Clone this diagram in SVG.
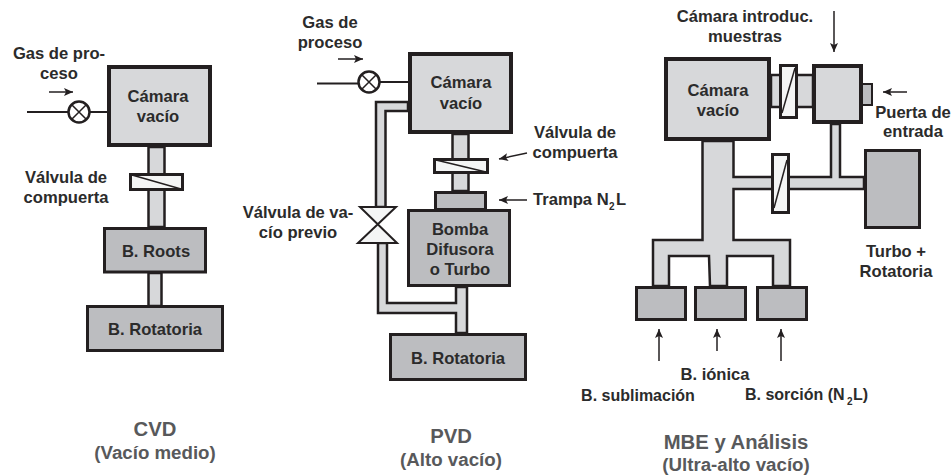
<svg xmlns="http://www.w3.org/2000/svg" width="951" height="475" viewBox="0 0 951 475">
<style>
text{font-family:"Liberation Sans",Arial,sans-serif;font-weight:700;font-size:16.600px;fill:#2b2b2b;text-anchor:middle}
.t{font-size:20.300px;fill:#58595b}
.s{font-size:18.700px;fill:#58595b}
.st{text-anchor:start}
.n{font-size:16px}
.sub{font-size:10px}
.h{fill:#d7d8da;stroke:#231f20;stroke-width:4}
.d{fill:#bcbdc0;stroke:#231f20;stroke-width:3}
.v{fill:#f4f5f5;stroke:#231f20;stroke-width:3}
.p{fill:#d7d8da;stroke:#231f20;stroke-width:2.500}
.w{fill:none;stroke:#231f20;stroke-width:2}
.a{fill:none;stroke:#231f20;stroke-width:1.500;marker-end:url(#ah)}
.x{fill:none;stroke:#231f20;stroke-width:1.500}
.c{fill:#fff;stroke:#231f20;stroke-width:2.500}
</style>
<defs><marker id="ah" markerUnits="userSpaceOnUse" markerWidth="10" markerHeight="8" refX="9" refY="4" orient="auto"><path d="M0 0L9 4L0 8L2 4Z" fill="#231f20"/></marker></defs>
<rect width="951" height="475" fill="#fff"/>
<g id="connectors">
<path class="p" d="M148.500 147V227H164.500V147Z"/>
<path class="p" d="M148.500 273V306H161.500V273Z"/>
<path class="w" d="M27 112H68M90 112H107"/>
<path class="a" d="M49 92H73"/>
<path class="p" d="M452.500 134V191H468.500V134Z"/>
<path class="p" d="M408 102H376V207H385.500V111H408Z"/>
<path class="p" d="M378 243V313H456V333H467V287H456V303H387V243Z"/>
<path class="w" d="M317 83.500H358"/><path class="w" d="M380 82H408"/>
<path class="a" d="M338 59H363"/>
<path class="a" d="M527 153L499 159"/>
<path class="a" d="M527 200H499"/>
<path class="p" d="M771 75H813V107H771Z"/>
<path class="p" d="M702.500 141V240H653V286H669V256H709L710 286H727V256H773V286H790V240H733.500V189H864V177H840V124H831V177H733.500V141Z"/>
<path class="a" d="M834 11V52"/>
<path class="a" d="M907 92H883"/>
<path class="a" d="M659 361V329"/>
<path class="a" d="M717 351V329"/>
<path class="a" d="M781 361V329"/>
</g>
<g id="cvd-camara"><rect class="h" x="109" y="67" width="101" height="78"/><text x="158" y="102">Cámara</text><text x="158" y="122">vacío</text></g>
<g id="cvd-gas"><circle class="c" cx="79" cy="112" r="10.500"/><path class="x" d="M71.500 104.500L86.500 119.500M71.500 119.500L86.500 104.500"/><text x="59" y="59">Gas de pro-</text><text x="59" y="79">ceso</text></g>
<g id="cvd-valvula"><rect class="v" x="130.500" y="174.500" width="52" height="15"/><path class="x" d="M132 175L181 189"/><text x="66" y="183">Válvula de</text><text x="66" y="203">compuerta</text></g>
<g id="cvd-roots"><rect class="d" x="104.500" y="228.500" width="101" height="43.500"/><text x="156" y="257">B. Roots</text></g>
<g id="cvd-rotatoria"><rect class="d" x="87.500" y="306.500" width="135" height="44"/><text x="155" y="335">B. Rotatoria</text></g>
<g id="cvd-titulo"><text class="t" x="155" y="436">CVD</text><text class="s" x="155" y="459">(Vacío medio)</text></g>
<g id="pvd-camara"><rect class="h" x="410" y="54" width="101" height="78"/><text x="461" y="88">Cámara</text><text x="461" y="109">vacío</text></g>
<g id="pvd-gas"><circle class="c" cx="369" cy="82" r="10.500"/><path class="x" d="M361.500 74.500L376.500 89.500M361.500 89.500L376.500 74.500"/><text x="330" y="28">Gas de</text><text x="330" y="48">proceso</text></g>
<g id="pvd-valvula"><rect class="v" x="434.500" y="159.500" width="53" height="13"/><path class="x" d="M436 160L486 172"/><text x="575" y="138">Válvula de</text><text x="575" y="158">compuerta</text></g>
<g id="pvd-trampa"><rect class="d" x="435.500" y="192.500" width="50" height="17"/><text class="st" x="533" y="205">Trampa N</text><text class="sub st" x="609" y="210">2</text><text class="st" x="616" y="205">L</text></g>
<g id="pvd-bomba"><rect class="d" x="408.500" y="210.500" width="101" height="75"/><text x="460" y="235">Bomba</text><text x="460" y="255">Difusora</text><text x="460" y="275">o Turbo</text></g>
<g id="pvd-previo"><path d="M360 207H396L358 243H397Z" fill="#f4f5f5" stroke="#231f20" stroke-width="2"/><text x="298" y="218">Válvula de va-</text><text x="298" y="238">cío previo</text></g>
<g id="pvd-rotatoria"><rect class="d" x="390.500" y="334.500" width="135" height="45"/><text x="458" y="364">B. Rotatoria</text></g>
<g id="pvd-titulo"><text class="t" x="451" y="443">PVD</text><text class="s" x="451" y="466">(Alto vacío)</text></g>
<g id="mbe-camara"><rect class="h" x="666" y="59" width="103" height="80"/><text x="718" y="96">Cámara</text><text x="718" y="116">vacío</text></g>
<g id="mbe-valvula1"><rect class="v" x="780.500" y="65.500" width="16" height="52"/><path class="x" d="M782 113L795 68"/></g>
<g id="mbe-intro"><rect class="h" x="814" y="66" width="47" height="56"/><text x="745" y="22">Cámara introduc.</text><text x="745" y="42">muestras</text></g>
<g id="mbe-puerta"><rect x="862" y="84" width="10" height="21" fill="#bcbdc0" stroke="#231f20" stroke-width="2"/><text x="913" y="118">Puerta de</text><text x="913" y="137">entrada</text></g>
<g id="mbe-valvula2"><rect class="v" x="772.500" y="154.500" width="16" height="58"/><path class="x" d="M774 208L787 160"/></g>
<g id="mbe-turbo"><rect class="d" x="865.500" y="150.500" width="54" height="77"/><text x="896" y="257">Turbo +</text><text x="896" y="277">Rotatoria</text></g>
<g id="mbe-sublimacion"><rect class="d" x="636.500" y="287.500" width="49" height="32"/><text class="n" x="638" y="401">B. sublimación</text></g>
<g id="mbe-ionica"><rect class="d" x="695.500" y="287.500" width="50" height="32"/><text x="715" y="380">B. iónica</text></g>
<g id="mbe-sorcion"><rect class="d" x="757.500" y="287.500" width="49" height="32"/><text class="st n" x="745" y="400">B. sorción (N</text><text class="sub st" x="847" y="405">2</text><text class="st n" x="853" y="400">L)</text></g>
<g id="mbe-titulo"><text class="t" x="736" y="449">MBE y Análisis</text><text class="s" x="736" y="471">(Ultra-alto vacío)</text></g>
</svg>
